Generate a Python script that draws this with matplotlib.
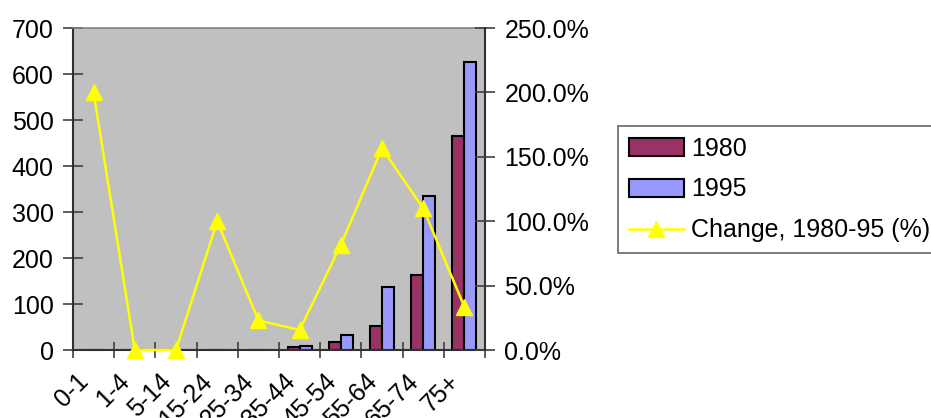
import matplotlib
matplotlib.use('Agg')
import matplotlib.pyplot as plt
import matplotlib.transforms as mtransforms
import numpy as np
from matplotlib.ticker import FuncFormatter, FixedLocator

plt.rcParams['font.family'] = ['Liberation Sans', 'DejaVu Sans']

# Age groups and deaths per group for the two years
age_groups = ['0-1', '1-4', '5-14', '15-24', '25-34', '35-44', '45-54', '55-64', '65-74', '75+']
deaths_1980 = [0, 0, 0, 0, 0, 6, 18, 53, 162, 466]
deaths_1995 = [0, 0, 0, 0, 0, 9, 32, 136, 335, 627]
# Percentage change 1980-95
change_pct = [200, 0, 0, 100, 23, 15.5, 81.5, 156.5, 110, 33.5]

FS = 18
W, H = 931, 418

fig = plt.figure(figsize=(W / 100, H / 100), dpi=100)
ax = fig.add_axes([73 / W, (H - 350) / H, (485 - 73) / W, (350 - 28) / H])
ax.set_facecolor('#C0C0C0')

x = np.arange(len(age_groups))
bw = 0.29
ax.bar(x - bw / 2, deaths_1980, bw, color='#993366', edgecolor='black', linewidth=1.5, label='1980', zorder=2)
ax.bar(x + bw / 2, deaths_1995, bw, color='#9999FF', edgecolor='black', linewidth=1.5, label='1995', zorder=2)

ax.set_xlim(-0.5, len(age_groups) - 0.5)
ax.set_ylim(0, 700)
ax.set_yticks(range(0, 701, 100))
ax.set_xticks(x)
ax.set_xticklabels(age_groups, rotation=45, ha='right', rotation_mode='anchor', fontsize=FS)
ax.xaxis.set_minor_locator(FixedLocator(np.arange(-0.5, len(age_groups), 1)))
ax.tick_params(axis='x', which='major', length=0, pad=16)
ax.tick_params(axis='x', which='minor', direction='inout', length=11, width=1.2, color='#404040')
ax.tick_params(axis='y', direction='inout', length=14, width=1.2, color='#404040', labelsize=FS, pad=7)

# shift the slanted category labels a little to the left
shift = mtransforms.ScaledTranslation(-17 / 100, 3 / 100, fig.dpi_scale_trans)
for lbl in ax.get_xticklabels():
    lbl.set_transform(lbl.get_transform() + shift)

for side in ['left', 'bottom']:
    ax.spines[side].set_color('#303030')
    ax.spines[side].set_linewidth(1.5)
ax.spines['top'].set_color('#808080')
ax.spines['top'].set_linewidth(1.2)
ax.spines['right'].set_visible(False)

# Percentage change on the secondary axis
ax2 = ax.twinx()
ax2.plot(x, change_pct, color='#FFFF00', linewidth=1.8, marker='^', markersize=12,
         label='Change, 1980-95 (%)', zorder=3, clip_on=False)
ax2.set_ylim(0, 250)
ax2.set_yticks(range(0, 251, 50))
ax2.yaxis.set_major_formatter(FuncFormatter(lambda v, p: f'{v:.1f}%'))
ax2.tick_params(axis='y', direction='inout', length=14, width=1.2, color='#404040', labelsize=FS, pad=7)
for side in ['left', 'bottom', 'top']:
    ax2.spines[side].set_visible(False)
ax2.spines['right'].set_color('#303030')
ax2.spines['right'].set_linewidth(1.5)

h1, l1 = ax.get_legend_handles_labels()
h2, l2 = ax2.get_legend_handles_labels()
leg = fig.legend(h1 + h2, l1 + l2, loc='upper left', bbox_to_anchor=(618 / W, 1 - 126 / H),
                 fontsize=FS, frameon=True, fancybox=False, shadow=False,
                 handlelength=2.2, handleheight=0.7, handletextpad=0.3,
                 labelspacing=0.68, borderpad=0.42, borderaxespad=0)
leg.get_frame().set_edgecolor('#404040')
leg.get_frame().set_linewidth(1.2)

fig.savefig('out.png', dpi=100)
